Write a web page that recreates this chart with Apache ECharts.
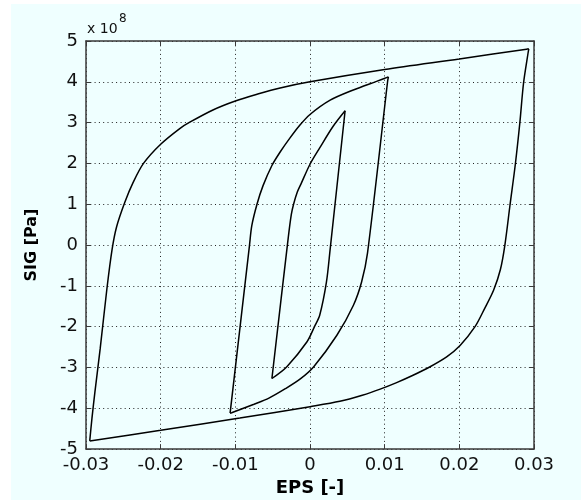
<!DOCTYPE html>
<html>
<head>
<meta charset="utf-8">
<script src="https://cdn.jsdelivr.net/npm/echarts@6/dist/echarts.min.js"></script>
<style>
  html, body { margin: 0; padding: 0; background: #ffffff; }
  #frame { position: absolute; left: 11px; top: 4px; width: 570px; height: 496px; background: #efffff; }
  #chart { position: absolute; left: 0; top: 0; width: 581px; height: 502px; }
</style>
</head>
<body>
<div id="frame"></div>
<div id="chart"></div>
<script>
// Strain EPS (-) and stress SIG (in units of 1e8 Pa) along three hysteresis loops,
// each loop split into its loading (up) and unloading (down) branch.
const outerUpEps = [-0.0295, -0.0292, -0.0288, -0.0281, -0.0272, -0.0265, -0.0259, -0.0248, -0.0237, -0.0223,
  -0.0200, -0.0174, -0.0161, -0.0130, -0.0100, -0.0070, -0.0040, 0.0000, 0.0100, 0.0200, 0.0290, 0.0293];
const outerUpSig = [-4.80, -4.24, -3.59, -2.54, -1.07, -0.10, 0.45, 1.05, 1.53, 2.00,
  2.47, 2.86, 3.01, 3.31, 3.53, 3.70, 3.85, 4.00, 4.30, 4.56, 4.80, 4.81];
const outerDownEps = [0.0293, 0.0292, 0.0286, 0.0281, 0.0275, 0.0268, 0.0261, 0.0255, 0.0246, 0.0234, 0.0221,
  0.0201, 0.0183, 0.0159, 0.0138, 0.0116, 0.0094, 0.0070, 0.0040, 0.0000, -0.0094, -0.0200, -0.0295];
const outerDownSig = [4.81, 4.70, 3.97, 2.99, 1.98, 1.00, 0.00, -0.60, -1.10, -1.55, -2.00,
  -2.46, -2.74, -3.00, -3.19, -3.37, -3.53, -3.68, -3.83, -3.96, -4.24, -4.54, -4.80];

const middleUpEps = [-0.0107, -0.0081, -0.0078, -0.0071, -0.0063, -0.0051, -0.0040, -0.0027, -0.0014, 0.0000,
  0.0027, 0.0058, 0.0089, 0.0105];
const middleUpSig = [-4.12, 0.00, 0.47, 1.00, 1.45, 1.95, 2.28, 2.62, 2.93, 3.20,
  3.55, 3.80, 4.01, 4.12];
const middleDownEps = [0.0105, 0.0104, 0.0077, 0.0069, 0.0058, 0.0036, 0.0005, -0.0013, -0.0033,
  -0.0055, -0.0075, -0.0105, -0.0107];
const middleDownSig = [4.12, 4.02, -0.20, -0.91, -1.48, -2.21, -2.98, -3.28, -3.52,
  -3.75, -3.90, -4.11, -4.12];

const innerUpEps = [-0.0051, -0.0029, -0.0025, -0.0022, -0.0017, -0.0012, 0.0000, 0.0013, 0.0031, 0.0047];
const innerUpSig = [-3.27, 0.20, 0.75, 1.00, 1.30, 1.50, 1.98, 2.38, 2.91, 3.29];
const innerDownEps = [0.0047, 0.0027, 0.0022, 0.0013, 0.0006, -0.0004, -0.0031, -0.0051];
const innerDownSig = [3.29, -0.10, -0.91, -1.72, -2.00, -2.37, -2.98, -3.27];

const xTicks = { min: -0.03, max: 0.03, step: 0.01 };
const yTicks = { min: -5, max: 5, step: 1 };

const pairs = (xs, ys) => xs.map((x, i) => [x, ys[i]]);

const textFont = 'DejaVu Sans';
const frameColor = '#3a3a3a';

function fmtX(v) {
  const r = Math.round(v * 100) / 100;
  return r === 0 ? '0' : String(r);
}

const gridDots = { show: true, lineStyle: { color: '#222', width: 1, type: [1, 3.3] } };

const baseAxis = {
  axisLine: { show: true, onZero: false, lineStyle: { color: frameColor, width: 1.5 } },
  axisTick: { show: true, inside: true, length: 5, lineStyle: { color: frameColor, width: 1 } },
};

const chart = echarts.init(document.getElementById('chart'), null, { renderer: 'canvas' });

const branch = (name, xs, ys) => ({
  name, type: 'line', data: pairs(xs, ys), xAxisIndex: 0, yAxisIndex: 0,
  showSymbol: false, smooth: 0.3, clip: false,
  lineStyle: { color: '#000', width: 1.5 }, z: 3
});

chart.setOption({
  backgroundColor: 'transparent',
  animation: false,
  grid: { left: 86, right: 47, top: 41, bottom: 51, containLabel: false },
  xAxis: [
    Object.assign({}, baseAxis, {
      type: 'value', position: 'bottom', min: xTicks.min, max: xTicks.max, interval: xTicks.step,
      name: 'EPS [-]', nameLocation: 'middle', nameGap: 29,
      nameTextStyle: { fontFamily: textFont, fontWeight: 'bold', fontSize: 18, color: '#000' },
      axisLabel: { show: true, formatter: fmtX, margin: 7, fontFamily: textFont, fontSize: 18, color: '#111',
        showMinLabel: true, showMaxLabel: true },
      splitLine: gridDots
    }),
    Object.assign({}, baseAxis, {
      type: 'value', position: 'top', min: xTicks.min, max: xTicks.max, interval: xTicks.step,
      axisLabel: { show: false }, splitLine: { show: false }
    })
  ],
  yAxis: [
    Object.assign({}, baseAxis, {
      type: 'value', position: 'left', min: yTicks.min, max: yTicks.max, interval: yTicks.step,
      name: 'SIG [Pa]', nameLocation: 'middle', nameGap: 46, nameRotate: 90,
      nameTextStyle: { fontFamily: textFont, fontWeight: 'bold', fontSize: 16, color: '#000' },
      axisLabel: { show: true, margin: 8, fontFamily: textFont, fontSize: 18, color: '#111' },
      splitLine: gridDots
    }),
    Object.assign({}, baseAxis, {
      type: 'value', position: 'right', min: yTicks.min, max: yTicks.max, interval: yTicks.step,
      axisLabel: { show: false }, splitLine: { show: false }
    })
  ],
  graphic: [
    { type: 'text', left: 87, top: 22, style: { text: 'x 10', font: '14px "DejaVu Sans"', fill: '#111' } },
    { type: 'text', left: 119, top: 13, style: { text: '8', font: '12px "DejaVu Sans"', fill: '#111' } }
  ],
  series: [
    branch('outer-up', outerUpEps, outerUpSig),
    branch('outer-down', outerDownEps, outerDownSig),
    branch('middle-up', middleUpEps, middleUpSig),
    branch('middle-down', middleDownEps, middleDownSig),
    branch('inner-up', innerUpEps, innerUpSig),
    branch('inner-down', innerDownEps, innerDownSig)
  ]
});
</script>
</body>
</html>
